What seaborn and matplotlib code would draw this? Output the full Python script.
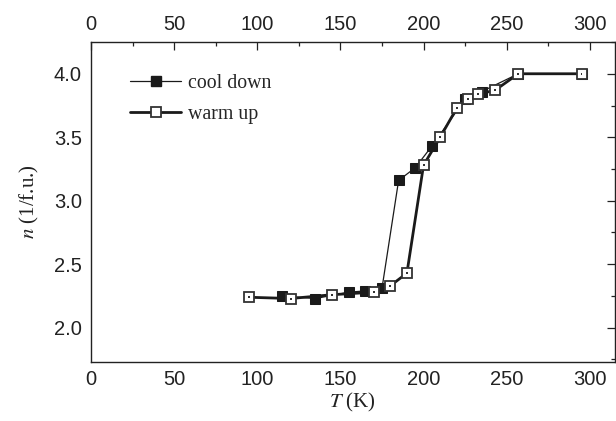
import matplotlib
matplotlib.use("Agg")
import matplotlib.pyplot as plt
from matplotlib.ticker import MultipleLocator
from matplotlib.lines import Line2D
import seaborn as sns
import pandas as pd

# Cooling run (measured from high to low temperature)
cool_T = [295, 257, 235, 225, 205, 195, 185, 175, 165, 155, 135, 115]
cool_n = [4.00, 4.00, 3.86, 3.80, 3.43, 3.26, 3.16, 2.31, 2.29, 2.28, 2.23, 2.25]

# Warming run
warm_T = [95, 120, 145, 170, 180, 190, 200, 210, 220, 227, 233, 243, 257, 295]
warm_n = [2.24, 2.23, 2.26, 2.28, 2.33, 2.43, 3.28, 3.50, 3.73, 3.80, 3.84, 3.87, 4.00, 4.00]

x_ticks = [0, 50, 100, 150, 200, 250, 300]
y_ticks = [2.0, 2.5, 3.0, 3.5, 4.0]

cool = pd.DataFrame({"T": cool_T, "n": cool_n})
warm = pd.DataFrame({"T": warm_T, "n": warm_n})

sns.set_theme(style="white")
plt.rcParams["font.family"] = ["Liberation Sans", "DejaVu Sans"]
plt.rcParams["mathtext.fontset"] = "stix"

fig = plt.figure(figsize=(6.16, 4.21), dpi=100)
ax = fig.add_axes([0.1477, 0.1401, 0.8503, 0.7601])

ink = "#1a1a1a"

sns.lineplot(data=cool, x="T", y="n", sort=False, ax=ax, color=ink,
             linewidth=0.9, marker="s", markersize=7.8,
             markerfacecolor=ink, markeredgecolor=ink, zorder=3)
sns.lineplot(data=warm, x="T", y="n", sort=False, ax=ax, color=ink,
             linewidth=2.0, marker="s", markersize=6.8,
             markerfacecolor="white", markeredgecolor="#333333",
             markeredgewidth=1.3, zorder=4)
# small centre dots inside the open squares
sns.scatterplot(data=warm, x="T", y="n", ax=ax, marker="s", s=2,
                color="#333333", edgecolor="none", zorder=5)

ax.set_xlim(0, 315)
ax.set_ylim(1.73, 4.25)
ax.set_xticks(x_ticks)
ax.set_yticks(y_ticks)
ax.set_yticklabels([f"{v:.1f}" for v in y_ticks])
ax.xaxis.set_minor_locator(MultipleLocator(25))
ax.yaxis.set_minor_locator(MultipleLocator(0.25))

ax.tick_params(which="both", direction="in", top=True, right=True,
               labeltop=True, labelright=False, color="#222222",
               labelsize=14.5, labelcolor="#222222")
ax.tick_params(which="major", length=5.5, width=0.9)
ax.tick_params(which="minor", length=3, width=0.9)
ax.tick_params(axis="x", pad=5.5)
ax.tick_params(axis="y", pad=6.5)

for sp in ax.spines.values():
    sp.set_color("#222222")
    sp.set_linewidth(1.0)

serif = ["Liberation Serif", "DejaVu Serif"]
ax.set_xlabel(r"$T$ (K)", family=serif, fontsize=15, color="#222222",
              labelpad=2)
ax.set_ylabel(r"$n$ (1/f.u.)", family=serif, fontsize=15, color="#222222",
              labelpad=9)

handles = [
    Line2D([], [], color=ink, linewidth=0.9, marker="s", markersize=7.8,
           markerfacecolor=ink, markeredgecolor=ink),
    Line2D([], [], color=ink, linewidth=2.0, marker="s", markersize=6.8,
           markerfacecolor="white", markeredgecolor="#333333",
           markeredgewidth=1.3),
]
ax.legend(handles, ["cool down", "warm up"], loc="upper left",
          bbox_to_anchor=(0.04, 0.955), frameon=False,
          handlelength=2.6, handletextpad=0.35, labelspacing=0.6,
          prop={"family": serif, "size": 14.3})

fig.savefig("out.png", dpi=100)
